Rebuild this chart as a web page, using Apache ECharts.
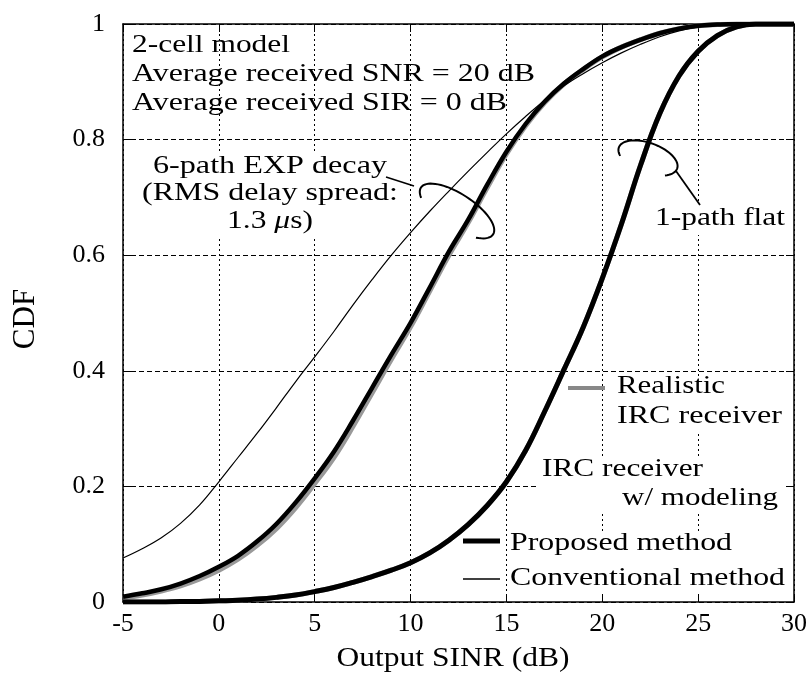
<!DOCTYPE html>
<html><head><meta charset="utf-8">
<script src="https://cdn.jsdelivr.net/npm/echarts@6/dist/echarts.min.js"></script>
<style>html,body{margin:0;padding:0;background:#fff}#c{width:811px;height:679px}</style>
</head><body><div id="c"></div>
<script>
// Output SINR (dB) sample positions
const sinrDb = [-5,-4,-3,-2,-1,0,1,2,3,4,5,6,7,8,9,10,11,12,13,14,15,16,17,18,19,20,21,22,23,24,25,26,27,28,29,30];

// 6-path EXP decay channel
const sixPathProposed = [0.009,0.015,0.022,0.032,0.045,0.061,0.08,0.105,0.135,0.172,0.214,0.26,0.314,0.371,0.428,0.483,0.544,0.606,0.661,0.722,0.779,0.827,0.866,0.897,0.922,0.944,0.96,0.973,0.984,0.992,0.997,0.999,1,1,1,1];
const sixPathRealistic = [0.007,0.012,0.019,0.028,0.04,0.055,0.074,0.098,0.127,0.163,0.205,0.25,0.304,0.362,0.42,0.476,0.538,0.6,0.656,0.717,0.775,0.824,0.864,0.896,0.921,0.943,0.96,0.973,0.984,0.992,0.997,0.999,1,1,1,1];
const sixPathConventional = [0.076,0.092,0.111,0.136,0.168,0.208,0.25,0.292,0.336,0.381,0.424,0.468,0.514,0.558,0.6,0.639,0.676,0.711,0.745,0.778,0.81,0.84,0.868,0.893,0.914,0.933,0.95,0.965,0.978,0.988,0.995,0.999,1,1,1,1];

// 1-path flat channel
const flatProposed = [0,0,0,0.001,0.001,0.002,0.003,0.005,0.008,0.012,0.018,0.025,0.034,0.044,0.055,0.068,0.085,0.107,0.134,0.167,0.208,0.262,0.33,0.402,0.475,0.56,0.654,0.756,0.845,0.91,0.953,0.98,0.995,1,1,1];
const flatRealistic = [0,0,0,0.001,0.001,0.002,0.003,0.005,0.008,0.012,0.018,0.025,0.034,0.044,0.055,0.068,0.085,0.107,0.134,0.167,0.208,0.262,0.33,0.402,0.475,0.56,0.654,0.756,0.845,0.91,0.953,0.98,0.995,1,1,1];
const flatConventional = [0,0,0,0.001,0.001,0.002,0.003,0.005,0.008,0.012,0.018,0.025,0.034,0.044,0.055,0.068,0.085,0.107,0.134,0.167,0.208,0.262,0.33,0.402,0.475,0.56,0.654,0.756,0.845,0.91,0.953,0.98,0.995,1,1,1];

const FONT = '"Liberation Serif", "Times New Roman", serif';
const FS = 26;
const chart = echarts.init(document.getElementById('c'), null, {renderer: 'canvas'});
const mctx = document.createElement('canvas').getContext('2d');
function measure(str, size) { mctx.font = size + 'px ' + FONT; return mctx.measureText(str).width; }

function txt(str, x, baseline, targetW, align, opts) {
  opts = opts || {};
  const size = opts.size || FS;
  const plain = opts.plain || str;
  const s = targetW ? targetW / measure(plain, size) : 1;
  const el = {
    type: 'text', x: x, y: baseline - 0.33 * size, scaleX: s, z: 30,
    style: {
      text: str, fill: '#000', font: size + 'px ' + FONT, fontSize: size, fontFamily: FONT,
      textAlign: align, align: align, textVerticalAlign: 'middle', verticalAlign: 'middle'
    }
  };
  if (opts.rich) el.style.rich = opts.rich;
  return el;
}
function box(x, y, w, h) { return {type: 'rect', shape: {x: x, y: y, width: w, height: h}, style: {fill: '#fff'}, z: 1, silent: true}; }
function seg(x1, y1, x2, y2, w, color) { return {type: 'line', shape: {x1: x1, y1: y1, x2: x2, y2: y2}, style: {stroke: color || '#000', lineWidth: w}, z: 30}; }
function ell(cx, cy, a, b, rotDeg, t0, t1) {
  const r = rotDeg * Math.PI / 180, pts = [];
  const U = [Math.cos(r), Math.sin(r)], V = [-Math.sin(r), Math.cos(r)];
  for (let t = t0; t <= t1 + 1e-9; t += 5) {
    const tr = t * Math.PI / 180, c = a * Math.cos(tr), s = b * Math.sin(tr);
    pts.push([cx + c * U[0] + s * V[0], cy + c * U[1] + s * V[1]]);
  }
  return {type: 'polyline', shape: {points: pts}, style: {stroke: '#000', lineWidth: 2, fill: null}, z: 30};
}

function pairs(ys) { return sinrDb.map((x, i) => [x, ys[i]]); }
function line(name, ys, width, color, z) {
  return {name: name, type: 'line', data: pairs(ys), showSymbol: false, smooth: 0.4,
    lineStyle: {width: width, color: color}, itemStyle: {color: color}, z: z, animation: false};
}

const axisLine = {show: true, onZero: false, lineStyle: {color: '#000', width: 1.5}};
const axisTick = {show: true, inside: true, length: 8, lineStyle: {color: '#000', width: 1}};
const labelStyle = {fontFamily: FONT, fontSize: 26, color: '#000'};

const option = {
  backgroundColor: '#fff',
  animation: false,
  grid: {left: 123, right: 17, top: 24, bottom: 77},
  xAxis: [
    {type: 'value', min: -5, max: 30, interval: 5, position: 'bottom', axisLine: axisLine, axisTick: axisTick,
     axisLabel: Object.assign({margin: 9}, labelStyle),
     splitLine: {show: true, lineStyle: {type: [2, 3], color: '#000', width: 1}}},
    {type: 'value', min: -5, max: 30, interval: 5, position: 'top', axisLine: axisLine, axisTick: axisTick,
     axisLabel: {show: false}, splitLine: {show: false}}
  ],
  yAxis: [
    {type: 'value', min: 0, max: 1, interval: 0.2, position: 'left', axisLine: axisLine, axisTick: axisTick,
     axisLabel: Object.assign({margin: 18}, labelStyle),
     splitLine: {show: true, lineStyle: {type: [5, 3], color: '#000', width: 1}}},
    {type: 'value', min: 0, max: 1, interval: 0.2, position: 'right', axisLine: axisLine, axisTick: axisTick,
     axisLabel: {show: false}, splitLine: {show: false}}
  ],
  series: [
    line('6-path realistic IRC', sixPathRealistic, 5, '#999', 3),
    line('6-path proposed', sixPathProposed, 4.5, '#000', 4),
    line('6-path conventional', sixPathConventional, 1.2, '#000', 5),
    line('1-path realistic IRC', flatRealistic, 5, '#999', 3),
    line('1-path proposed', flatProposed, 5, '#000', 4),
    line('1-path conventional', flatConventional, 1.2, '#000', 5)
  ],
  graphic: {elements: [
    // white backgrounds behind annotation text
    box(140, 152, 262, 86),
    box(652, 203, 136, 32),
    box(612, 376, 176, 56),
    box(538, 457, 246, 56),
    box(509, 532, 279, 62),
    // top-left conditions
    txt('2-cell model', 132, 54, 158, 'left'),
    txt('Average received SNR = 20 dB', 132, 83, 403, 'left'),
    txt('Average received SIR = 0 dB', 132, 112, 375, 'left'),
    // 6-path annotation
    txt('6-path EXP decay', 270, 175, 234, 'center'),
    txt('(RMS delay spread:', 270, 202, 256, 'center'),
    txt('1.3 {i|\u03bc}s)', 270, 230, 87, 'center', {plain: '1.3 \u03bcs)',
      rich: {i: {fontStyle: 'italic', fontSize: FS, fontFamily: FONT, fill: '#000'}}}),
    seg(386, 177, 414, 186, 1.5),
    ell(457, 211, 43, 17, 33, 150, 405),
    // 1-path annotation
    txt('1-path flat', 655, 227, 130, 'left'),
    seg(676, 171, 700, 205, 1.8),
    ell(648, 158, 31, 15, 20, 150, 405),
    // legend-like annotation
    seg(568, 388, 605, 388, 4, '#888'),
    txt('Realistic', 617, 395, 108, 'left'),
    txt('IRC receiver', 617, 425, 165, 'left'),
    txt('IRC receiver', 542, 478, 161, 'left'),
    txt('w/ modeling', 622, 507, 156, 'left'),
    seg(463, 541, 500, 541, 5),
    txt('Proposed method', 510, 552, 222, 'left'),
    seg(463, 579, 500, 579, 1.5),
    txt('Conventional method', 510, 587, 275, 'left'),
    // axis names
    txt('Output SINR (dB)', 453, 668, 233, 'center', {size: 28}),
    {type: 'text', x: 26, y: 319, rotation: Math.PI / 2, z: 30,
     style: {text: 'CDF', fill: '#000', font: '31px ' + FONT, fontSize: 31, fontFamily: FONT,
             textAlign: 'center', align: 'center', textVerticalAlign: 'middle', verticalAlign: 'middle'}}
  ]}
};
chart.setOption(option);
</script>
</body></html>
